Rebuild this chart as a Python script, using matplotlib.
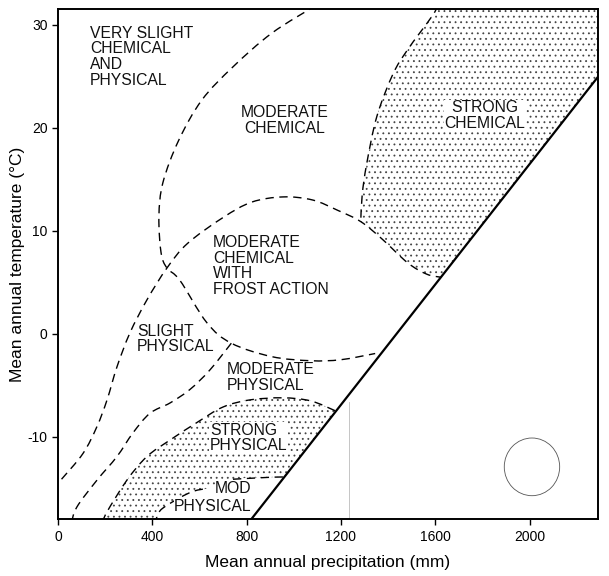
import numpy as np
import matplotlib
matplotlib.use("Agg")
import matplotlib.pyplot as plt
from matplotlib.patches import PathPatch, Ellipse
from matplotlib.path import Path

plt.rcParams['font.family'] = ['Liberation Sans', 'DejaVu Sans']
plt.rcParams['axes.unicode_minus'] = False
plt.rcParams['hatch.linewidth'] = 0.6

# ---- data: boundaries (precipitation mm, temperature degC) ----
solid_x = [819, 2300]
solid_y = [-18.0, 25.25]

outer_x = [1095, 907, 741, 610, 512, 445, 428, 437, 462, 517, 631, 735, 906, 1072, 1200, 1345]
outer_y = [31.9, 29.2, 25.9, 22.7, 18.8, 14.7, 11.4, 7.9, 6.4, 5.2, 1.1, -0.9, -2.2, -2.6, -2.5, -1.9]

left_x = [15, 106, 165, 208, 250, 305, 377, 462, 550, 700, 822, 955, 1080, 1186, 1284, 1375, 1483, 1564, 1625]
left_y = [-14.1, -11.6, -9.0, -6.4, -3.2, 0.1, 3.3, 6.4, 8.8, 11.3, 12.8, 13.3, 13.0, 12.0, 10.9, 9.2, 6.9, 5.8, 5.5]

chem_x = [1612, 1585, 1483, 1420, 1352, 1309, 1290, 1284]
chem_y = [31.9, 30.8, 27.6, 25.2, 21.1, 16.5, 13.5, 10.9]

modphys_x = [735, 644, 559, 475, 390, 318, 250, 165, 80, 55]
modphys_y = [-0.9, -3.5, -5.4, -6.7, -7.7, -9.6, -11.9, -14.2, -16.8, -18.5]

strong_x = [190, 207, 292, 377, 475, 589, 699, 814, 953, 1072, 1180]
strong_y = [-18.3, -17.3, -14.2, -11.9, -10.3, -8.6, -7.1, -6.4, -6.2, -6.5, -7.5]

mod_x = [405, 419, 445, 559, 631, 742, 911, 962]
mod_y = [-18.5, -17.8, -16.9, -15.4, -15.0, -14.1, -13.9, -13.9]

xticks = [0, 400, 800, 1200, 1600, 2000]
yticks = [-10, 0, 10, 20, 30]

labels = [
    ("VERY SLIGHT\nCHEMICAL\nAND\nPHYSICAL", 136, 26.9, 'left', False),
    ("MODERATE\nCHEMICAL", 962, 20.7, 'center', False),
    ("STRONG\nCHEMICAL", 1810, 21.2, 'center', True),
    ("MODERATE\nCHEMICAL\nWITH\nFROST ACTION", 657, 6.6, 'left', False),
    ("SLIGHT\nPHYSICAL", 335, -0.5, 'left', False),
    ("MODERATE\nPHYSICAL", 716, -4.2, 'left', False),
    ("STRONG\nPHYSICAL", 644, -10.1, 'left', True),
]


def smooth(xs, ys, start=True):
    """Catmull-Rom through the traced points, as cubic Bezier path pieces."""
    P = np.column_stack([xs, ys]).astype(float)
    n = len(P)
    verts, codes = [P[0]], [Path.MOVETO if start else Path.LINETO]
    for i in range(n - 1):
        p0 = P[i - 1] if i > 0 else P[i]
        p1, p2 = P[i], P[i + 1]
        p3 = P[i + 2] if i + 2 < n else P[i + 1]
        verts += [p1 + (p2 - p0) / 6, p2 - (p3 - p1) / 6, p2]
        codes += [Path.CURVE4] * 3
    return verts, codes


def join(*pieces):
    v, c = [], []
    for k, (xs, ys) in enumerate(pieces):
        vv, cc = smooth(xs, ys, start=(k == 0))
        v += vv; c += cc
    v.append(v[0]); c.append(Path.CLOSEPOLY)
    return Path(np.array(v), c)


# ---- figure ----
fig = plt.figure(figsize=(6.09, 5.76), dpi=100)
ax = fig.add_axes([58/609, 1-519.4/576, 540/609, 510/576])
ax.set_xlim(0, 2290)
ax.set_ylim(-18.0, 31.5)

dash = (0, (6, 4))
lw = 1.0
stip = '#444444'

# stipple: strong chemical
p_sc = join((chem_x, chem_y), (left_x[14:], left_y[14:]),
            ([2300, 2300, chem_x[0]], [25.25, 40, 40]))
ax.add_patch(PathPatch(p_sc, facecolor='none', edgecolor=stip,
                       hatch='...', linewidth=0))
# stipple: strong physical
p_sp = join((strong_x, strong_y), (mod_x[::-1], mod_y[::-1]))
ax.add_patch(PathPatch(p_sp, facecolor='none', edgecolor=stip,
                       hatch='...', linewidth=0))

ax.plot(solid_x, solid_y, color='black', lw=1.6, solid_capstyle='butt')
for xs, ys in [(outer_x, outer_y), (left_x, left_y), (chem_x, chem_y),
               (modphys_x, modphys_y), (strong_x, strong_y)]:
    v, c = smooth(xs, ys)
    ax.add_patch(PathPatch(Path(np.array(v), c), fill=False, edgecolor='black',
                           lw=lw, linestyle=dash))
for xs, ys in [(mod_x[:5], mod_y[:5]), (mod_x[5:], mod_y[5:])]:
    v, c = smooth(xs, ys)
    ax.add_patch(PathPatch(Path(np.array(v), c), fill=False, edgecolor='black',
                           lw=lw, linestyle=dash))

# faint scan marks
ax.plot([1235, 1235], [-6.6, -18.0], color='#bbbbbb', lw=0.6)
ax.add_patch(Ellipse((2010, -12.9), 235, 5.6, angle=0, fill=False,
                     edgecolor='#555555', lw=0.6))

fs = 11.3
for txt, x, y, ha, box in labels:
    kw = {}
    if box:
        kw['bbox'] = dict(facecolor='white', edgecolor='none', pad=0.5)
    ax.text(x, y, txt, ha=ha, va='center', fontsize=fs, linespacing=1.05,
            color='#111111', **kw)
ax.text(822, -15.0, "MOD", ha='right', va='center', fontsize=fs,
        color='#111111', bbox=dict(facecolor='white', edgecolor='none', pad=0.3))
ax.text(822, -16.7, "PHYSICAL", ha='right', va='center', fontsize=fs,
        color='#111111', bbox=dict(facecolor='white', edgecolor='none', pad=0.3))

ax.set_xticks(xticks)
ax.set_yticks(yticks)
ax.set_xticklabels([str(v) for v in xticks], fontsize=10)
ax.set_yticklabels([str(v) for v in yticks], fontsize=10)
ax.tick_params(direction='out', length=4, width=1)
for s in ax.spines.values():
    s.set_linewidth(1.4)
ax.set_xlabel("Mean annual precipitation (mm)", fontsize=12.5, labelpad=8)
ax.set_ylabel("Mean annual temperature (°C)", fontsize=12.5, labelpad=2)

fig.savefig("out.png", dpi=100)
